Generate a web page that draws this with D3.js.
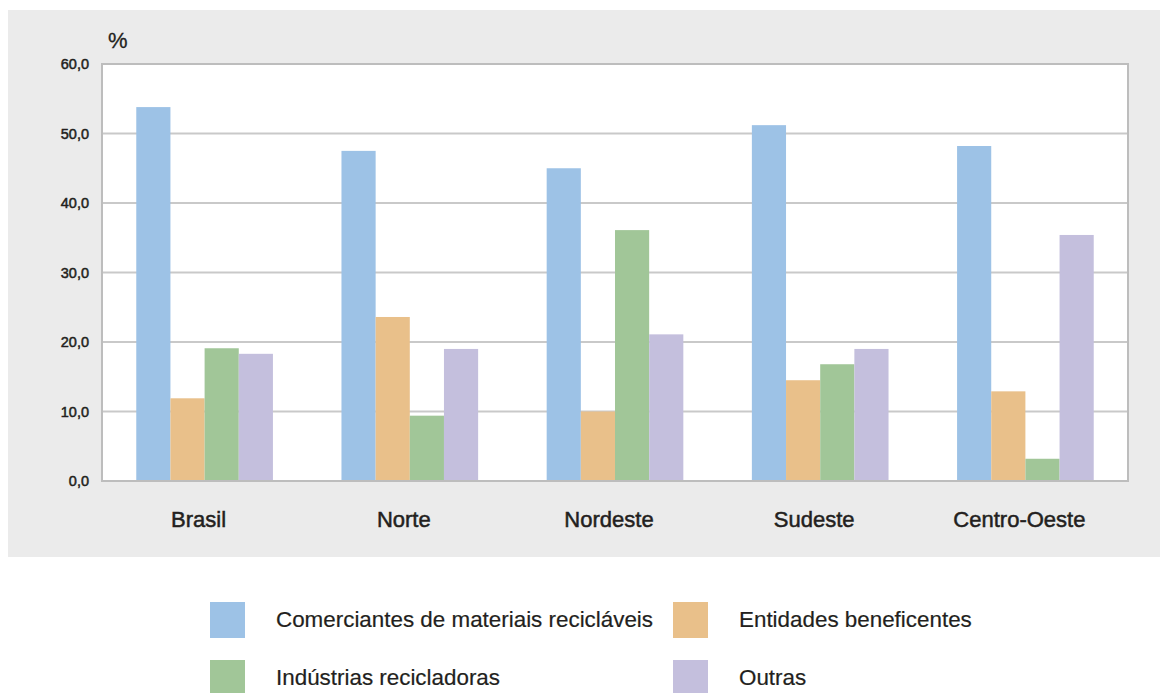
<!DOCTYPE html>
<html>
<head>
<meta charset="utf-8">
<script src="https://cdn.jsdelivr.net/npm/d3@7"></script>
<style>
  body { margin: 0; background: #fff; }
  text { font-family: "Liberation Sans", Arial, sans-serif; }
</style>
</head>
<body>
<div id="chart"></div>
<script>
// Categories and series
const regions = ["Brasil", "Norte", "Nordeste", "Sudeste", "Centro-Oeste"];
const seriesNames = [
    "Comerciantes de materiais recicláveis",
    "Entidades beneficentes",
    "Indústrias recicladoras",
    "Outras"
];
const comerciantes = [53.8, 47.5, 45.0, 51.2, 48.2];
const entidades = [11.9, 23.6, 10.0, 14.5, 12.9];
const industrias = [19.1, 9.4, 36.1, 16.8, 3.2];
const outras = [18.3, 19.0, 21.1, 19.0, 35.4];
const yTicks = [0, 10, 20, 30, 40, 50, 60];

const colors = ["#9dc2e6", "#e9c08a", "#a1c698", "#c4bfdd"];
const allSeries = [comerciantes, entidades, industrias, outras];

// Page size
const W = 1167, H = 693;
const margin = {top: 64, right: 39, bottom: 212, left: 102};
const width = W - margin.left - margin.right;
const height = H - margin.top - margin.bottom;
const textColor = "#231f20";

let svg = d3.select("#chart").append("svg")
    .attr("width", W)
    .attr("height", H);

// grey panel behind the chart
svg.append("rect")
    .attr("x", 8).attr("y", 10)
    .attr("width", 1152).attr("height", 547)
    .attr("fill", "#ebebeb");

let g = svg.append("g")
    .attr("transform", "translate(" + margin.left + "," + margin.top + ")");

// scales
let x0 = d3.scaleBand().domain(regions).range([0, width]).paddingInner(0.334).paddingOuter(0.167);
let x1 = d3.scaleBand().domain(d3.range(seriesNames.length)).range([0, x0.bandwidth()]);
let y = d3.scaleLinear().domain([0, 60]).range([height, 0]);

// plot background
g.append("rect")
    .attr("width", width).attr("height", height)
    .attr("fill", "#fff");

// gridlines
g.append("g")
    .selectAll("line")
    .data(yTicks.slice(1, -1))
    .join("line")
    .attr("x1", 0).attr("x2", width)
    .attr("y1", d => y(d)).attr("y2", d => y(d))
    .attr("stroke", "#c9c9c9")
    .attr("stroke-width", 2);

// bars
let data = [];
regions.forEach((r, i) => {
    allSeries.forEach((s, j) => {
        data.push({region: r, series: j, value: s[i]});
    });
});

g.append("g")
    .selectAll("rect")
    .data(data)
    .join("rect")
    .attr("x", d => x0(d.region) + x1(d.series))
    .attr("y", d => y(d.value))
    .attr("width", x1.bandwidth())
    .attr("height", d => height - y(d.value))
    .attr("fill", d => colors[d.series]);

// plot frame
g.append("rect")
    .attr("width", width).attr("height", height)
    .attr("fill", "none")
    .attr("stroke", "#bdbdbd")
    .attr("stroke-width", 2);

// y axis
let yAxis = g.append("g")
    .call(d3.axisLeft(y).tickValues(yTicks).tickSize(0).tickPadding(13)
        .tickFormat(d => d3.format(".1f")(d).replace(".", ",")));
yAxis.select(".domain").remove();
yAxis.selectAll("text")
    .style("font-size", "14.5px")
    .attr("fill", textColor)
    .attr("stroke", textColor)
    .attr("stroke-width", 0.5);

// x axis
let xAxis = g.append("g")
    .attr("transform", `translate(0,${height})`)
    .call(d3.axisBottom(x0).tickSize(0).tickPadding(30));
xAxis.select(".domain").remove();
xAxis.selectAll("text")
    .attr("dx", -6)
    .style("font-size", "22px")
    .attr("fill", textColor)
    .attr("stroke", textColor)
    .attr("stroke-width", 0.5);

// unit label
svg.append("text")
    .attr("x", 108).attr("y", 48)
    .style("font-size", "22px")
    .attr("fill", textColor)
    .attr("stroke", textColor)
    .attr("stroke-width", 0.3)
    .text("%");

// legend
let legendPos = [[210, 602], [673, 602], [210, 660], [673, 660]];
let legend = svg.append("g")
    .selectAll("g")
    .data(seriesNames)
    .join("g")
    .attr("transform", (d, i) => `translate(${legendPos[i][0]},${legendPos[i][1]})`);

legend.append("rect")
    .attr("width", 35).attr("height", 36)
    .attr("fill", (d, i) => colors[i]);

legend.append("text")
    .attr("x", 66).attr("y", 25)
    .style("font-size", "22.4px")
    .attr("fill", textColor)
    .attr("stroke", textColor)
    .attr("stroke-width", 0.2)
    .text(d => d);
</script>
</body>
</html>
